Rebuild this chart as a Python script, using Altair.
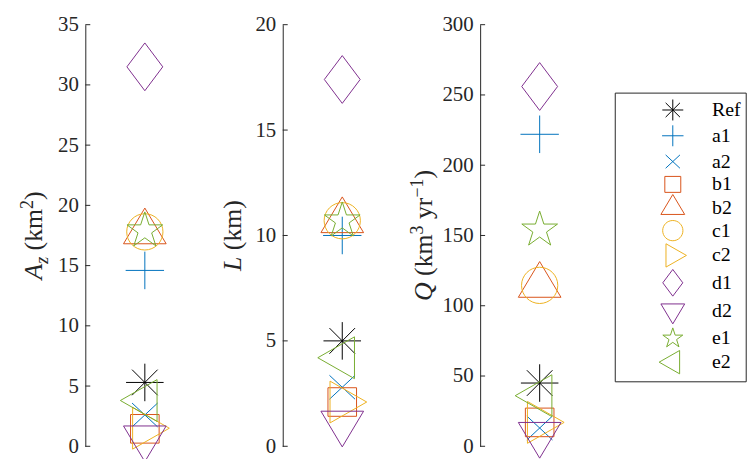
import math
import altair as alt
import pandas as pd

# ---------------- data ----------------
models = ["Ref", "a1", "a2", "b1", "b2", "c1", "c2", "d1", "d2", "e1", "e2"]
az_km2 = [5.3, 14.6, 2.6, 1.45, 17.8, 17.8, 1.5, 31.5, 0.7, 17.9, 3.8]
length_km = [5.0, 10.0, 2.8, 2.1, 10.7, 10.7, 2.1, 17.4, 1.1, 10.7, 4.2]
discharge = [45, 222, 13, 17, 114.5, 114.5, 17, 256, 8.5, 154, 36]

az_ticks = [0, 5, 10, 15, 20, 25, 30, 35]
length_ticks = [0, 5, 10, 15, 20]
discharge_ticks = [0, 50, 100, 150, 200, 250, 300]

# ---------------- style ----------------
SERIF = "Liberation Serif"
AXIS = "#262626"
colors = ["#000000", "#0072BD", "#0072BD", "#D95319", "#D95319",
          "#EDB120", "#EDB120", "#7E2F8E", "#7E2F8E", "#77AC30", "#77AC30"]


def poly(points):
    return "M" + "L".join(f"{x:.3f},{y:.3f}" for x, y in points) + "Z"


def star(r_out, r_in):
    pts = []
    for k in range(10):
        a = math.pi / 2 + k * math.pi / 5
        r = r_out if k % 2 == 0 else r_in
        pts.append((r * math.cos(a), -r * math.sin(a)))
    return poly(pts)


# marker outlines (unit box, triangles centred on their centroid)
shapes = [
    "M-0.88,0L0.88,0M0,-0.88L0,0.88M-0.6,-0.6L0.6,0.6M-0.6,0.6L0.6,-0.6",
    "M-0.9,0L0.9,0M0,-0.88L0,0.88",
    "M-0.6,-0.56L0.6,0.56M-0.6,0.56L0.6,-0.56",
    poly([(-0.67, -0.67), (0.67, -0.67), (0.67, 0.67), (-0.67, 0.67)]),
    poly([(0, -1.116), (1, 0.558), (-1, 0.558)]),
    "M0.85,0A0.85,0.85,0,1,1,-0.85,0A0.85,0.85,0,1,1,0.85,0Z",
    poly([(1.147, 0), (-0.573, 0.98), (-0.573, -0.98)]),
    poly([(0, -1.12), (0.84, 0), (0, 1.12), (-0.84, 0)]),
    poly([(0, 1.116), (1, -0.558), (-1, -0.558)]),
    star(0.88, 0.336),
    poly([(-1.147, 0), (0.573, -0.98), (0.573, 0.98)]),
]

# advance widths (em) used to lay out the rotated axis titles
ADVANCE = {" ": .25, "(": .333, ")": .333, "k": .5, "m": .778, "y": .5,
           "r": .333, "1": .5, "2": .5, "3": .5, "\u2212": .564}
ADVANCE_ITALIC = {"A": .611, "L": .556, "Q": .722, "z": .389}

TF = 26      # axis label font size
SF = 18      # sub/superscript font size


def title_marks(runs, base_x, center_y):
    """Rotated axis title built from runs of (text, italic, size, shift)."""
    lengths = [sum((ADVANCE_ITALIC if it else ADVANCE)[c] for c in t) * s
               for t, it, s, _ in runs]
    y = center_y + sum(lengths) / 2
    marks = []
    for (t, it, s, sh), ln in zip(runs, lengths):
        lead = len(t) - len(t.lstrip(" "))
        y_run = y - lead * ADVANCE[" "] * s
        marks.append(
            alt.Chart(alt.Data(values=[{}])).mark_text(
                text=t.lstrip(" "), angle=270, align="left", baseline="alphabetic",
                font=SERIF, fontSize=s, fontStyle="italic" if it else "normal",
                fontWeight="normal", color=AXIS,
            ).encode(x=alt.value(base_x + sh), y=alt.value(y_run))
        )
        y -= ln
    return marks


legend = alt.Legend(
    title=None, orient="none", legendX=533.7, legendY=68.5,
    symbolSize=576, symbolStrokeWidth=1,
    labelFont=SERIF, labelFontSize=20, labelFontWeight="normal", labelColor="#000000",
    strokeColor=AXIS, fillColor="#ffffff", padding=5, rowPadding=-2.4,
    symbolOffset=41, labelOffset=27,
)

W, H = 120, 425


def panel(values, ticks, runs, title_x):
    df = pd.DataFrame({"model": models, "value": values, "slot": 1})
    yscale = alt.Scale(domain=[ticks[0], ticks[-1]], nice=False, zero=False)
    points = alt.Chart(df).mark_point(
        filled=False, size=1849, strokeWidth=1, opacity=1
    ).encode(
        x=alt.X("slot:Q", scale=alt.Scale(domain=[0, 2]), axis=None),
        y=alt.Y("value:Q", scale=yscale, axis=alt.Axis(
            values=ticks, title=None, grid=False, ticks=False,
            domainColor=AXIS, domainWidth=1,
            labelFont=SERIF, labelFontSize=21, labelColor=AXIS,
            labelPadding=7, labelOverlap=False,
        )),
        shape=alt.Shape("model:N", scale=alt.Scale(domain=models, range=shapes), legend=legend),
        color=alt.Color("model:N", scale=alt.Scale(domain=models, range=colors), legend=legend),
    )
    inner_ticks = alt.Chart(pd.DataFrame({"value": ticks})).mark_rule(
        color=AXIS, strokeWidth=1
    ).encode(y=alt.Y("value:Q"), x=alt.value(0), x2=alt.value(5))
    return alt.layer(points, inner_ticks, *title_marks(runs, title_x, H / 2)).properties(
        width=W, height=H
    )


az_title = [("A", True, TF, 0), ("z", True, SF, 6), (" (km", False, TF, 0),
            ("2", False, SF, -9), (")", False, TF, 0)]
l_title = [("L", True, TF, 0), (" (km)", False, TF, 0)]
q_title = [("Q", True, TF, 0), (" (km", False, TF, 0), ("3", False, SF, -9),
           (" yr", False, TF, 0), ("\u22121", False, SF, -9), (")", False, TF, 0)]

chart = alt.hconcat(
    panel(az_km2, az_ticks, az_title, -43.5),
    panel(length_km, length_ticks, l_title, -42.5),
    panel(discharge, discharge_ticks, q_title, -48.5),
    spacing=79, bounds="flush",
).properties(
    padding={"left": 19, "top": 12, "right": 0, "bottom": 0}
).configure_view(strokeWidth=0)

chart.save("out.html", embed_options={"renderer": "svg", "actions": False})
